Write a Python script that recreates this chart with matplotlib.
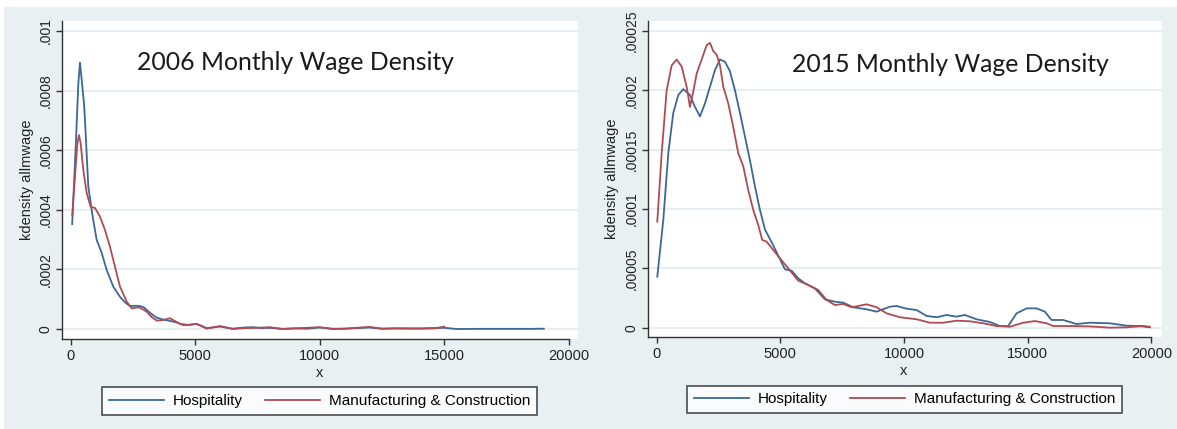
import numpy as np
import matplotlib
matplotlib.use('Agg')
import matplotlib.pyplot as plt
from matplotlib.patches import Rectangle

# 2006 kernel density curves
hosp2006X = [60, 213, 307, 373, 450, 533, 574, 707, 883, 1044, 1245, 1446, 1711, 1980, 2200, 2382,
             2600, 2783, 2950, 3052, 3250, 3454, 3700, 3988, 4250, 4522, 4800, 5060, 5462, 6000,
             6500, 7000, 7300, 7700, 8000, 8500, 9000, 9500, 10000, 10500, 11000, 11500, 12000,
             12500, 13000, 14000, 14500, 15000, 15500, 16500, 17500, 18500, 19000]
hosp2006Y = [0.000352, 0.000634, 0.000824, 0.000894, 0.00083, 0.000757, 0.000701, 0.000478, 0.000377,
             0.000299, 0.000255, 0.000198, 0.000142, 0.000108, 0.000088, 0.000077,
             0.000078, 0.000077, 0.000072, 0.000064, 0.000050, 0.000038, 0.000032, 0.000027, 0.000022,
             0.000013, 0.000014, 0.000017, 0.000003, 0.000008,
             0.000001, 0.000005, 0.000006, 0.000003, 0.000004, 0.0000005, 0.000002, 0.000001, 0.000005,
             0.000001, 0.000001, 0.000003, 0.000005,
             0.000001, 0.000002, 0.000002, 0.000003, 0.000004, 0.0, 0.0000005, 0.0000005, 0.0000005, 0.000001]

manu2006X = [64, 200, 270, 333, 400, 506, 643, 803, 976, 1177, 1378, 1578, 1779, 1980, 2249, 2450,
             2715, 2900, 3052, 3250, 3454, 3700, 3988, 4390, 4700, 5060, 5462, 6000, 6500, 7000,
             7500, 8000, 8500, 9000, 10000, 10500, 11000, 12000, 12500, 13000, 14000, 14600, 15000]
manu2006Y = [0.000383, 0.000545, 0.000623, 0.000651, 0.000623, 0.000534, 0.000456, 0.000410, 0.000406,
             0.000377, 0.000332, 0.000276, 0.000209, 0.000142, 0.000092, 0.000069,
             0.000073, 0.000066, 0.000058, 0.000040, 0.000028, 0.000030, 0.000036, 0.000017, 0.000014,
             0.000017, 0.000001, 0.00001, 0.0, 0.000003,
             0.000004, 0.000006, 0.0, 0.000002, 0.000006, 0.0, 0.000001, 0.000007, 0.000001, 0.000002,
             0.000001, 0.000002, 0.000008]

# 2015 kernel density curves
hosp2015X = [28, 271, 473, 675, 877, 1079, 1349, 1552, 1754, 1956, 2158, 2360, 2562, 2764, 2966, 3168,
             3370, 3572, 3774, 3976, 4178, 4380, 4650, 4917, 5188, 5459, 5725, 5996, 6400, 6804,
             7208, 7545, 7948, 8489, 8893, 9430, 9701, 10105, 10509, 10913, 11317, 11721, 12125,
             12460, 12933, 13471, 13875, 14211, 14551, 14955, 15358, 15693, 15964, 16432, 16974,
             17511, 18319, 18994, 19531, 19935]
hosp2015Y = [0.000043, 0.0000907, 0.000147, 0.000181, 0.000196, 0.000201, 0.000196, 0.000186, 0.000178,
             0.000189, 0.000203, 0.000217, 0.000226, 0.000224, 0.000216, 0.000200,
             0.000181, 0.000161, 0.000141, 0.000119, 0.0000992, 0.0000828, 0.000072, 0.0000607,
             0.0000492, 0.000048, 0.0000416, 0.0000374, 0.000033, 0.0000239,
             0.0000219, 0.0000211, 0.0000172, 0.0000155, 0.0000135, 0.0000177, 0.0000183, 0.000016,
             0.0000149, 0.0000099, 0.0000088, 0.0000107, 0.0000093,
             0.0000107, 0.0000071, 0.0000048, 0.0000014, 0.0000014, 0.0000121, 0.0000163, 0.0000163,
             0.0000135, 0.0000065, 0.0000065, 0.0000031,
             0.0000042, 0.0000037, 0.0000017, 0.0000014, 0.0000003]

manu2015X = [28, 206, 408, 610, 812, 1014, 1216, 1349, 1483, 1620, 1822, 2024, 2158, 2291, 2428, 2562,
             2695, 2897, 3099, 3301, 3503, 3705, 3907, 4109, 4271, 4448, 4715, 4986, 5321, 5725,
             6129, 6533, 6873, 7208, 7545, 7882, 8489, 8893, 9296, 9835, 10509, 11047, 11586, 12125,
             12663, 13202, 13741, 14279, 14820, 15291, 15762, 16031, 16840, 17511, 18319, 18994,
             19666, 19935]
manu2015Y = [0.0000893, 0.000147, 0.0002, 0.000221, 0.000226, 0.00022, 0.000203, 0.000186, 0.000199,
             0.000214, 0.000226, 0.000238, 0.00024, 0.000233, 0.00023, 0.000221,
             0.000203, 0.000189, 0.000169, 0.000147, 0.000136, 0.000116, 0.0000992, 0.0000865,
             0.0000739, 0.0000725, 0.0000655, 0.0000585, 0.00005, 0.0000396,
             0.000036, 0.0000318, 0.0000233, 0.0000191, 0.00002, 0.0000172, 0.0000197, 0.0000172,
             0.0000121, 0.0000088, 0.0000071, 0.0000042, 0.0000042, 0.0000059,
             0.0000054, 0.0000037, 0.0000014, 0.0000008, 0.0000042, 0.0000056, 0.0000037, 0.0000014,
             0.0000014, 0.0000011, 0.0, 0.0000003,
             0.0000014, 0.0000008]

xTicks = [0, 5000, 10000, 15000, 20000]
yTicks2006 = [0, 0.0002, 0.0004, 0.0006, 0.0008, 0.001]
yLabels2006 = ['0', '.0002', '.0004', '.0006', '.0008', '.001']
yTicks2015 = [0, 0.00005, 0.0001, 0.00015, 0.0002, 0.00025]
yLabels2015 = ['0', '.00005', '.0001', '.00015', '.0002', '.00025']
seriesNames = ['Hospitality', 'Manufacturing & Construction']
titles = ['2006 Monthly Wage Density', '2015 Monthly Wage Density']

BLUE = '#3b6896'
RED = '#ae4b53'
BG = '#e8f0f2'
GRID = '#e6eef1'
AXCOL = '#333333'
W, H = 1177, 429

plt.rcParams['font.family'] = ['Liberation Sans', 'DejaVu Sans']
fig = plt.figure(figsize=(W / 100, H / 100), dpi=100)
fig.patch.set_facecolor('white')
fig.add_artist(Rectangle((3.5 / W, 0), 1 - 3.5 / W, 1 - 6.7 / H, transform=fig.transFigure,
                         facecolor=BG, edgecolor='none', zorder=0))

# pixel boxes: (left, top, right, bottom), then x/y limits and text spots
panels = [
    dict(box=(62, 21, 578, 339), xlim=(-349, 20373), ylim=(-0.0000336, 0.0010336),
         yticks=yTicks2006, ylabels=yLabels2006, hosp=(hosp2006X, hosp2006Y), manu=(manu2006X, manu2006Y),
         title=titles[0], titlePos=(137, 63), legendPos=(319.5, 401), ylabX=34.5),
    dict(box=(648, 21, 1162, 337), xlim=(-347, 20428), ylim=(-0.00000784, 0.0002584),
         yticks=yTicks2015, ylabels=yLabels2015, hosp=(hosp2015X, hosp2015Y), manu=(manu2015X, manu2015Y),
         title=titles[1], titlePos=(792, 65), legendPos=(904.5, 399.5), ylabX=619),
]

for p in panels:
    l, t, r, b = p['box']
    ax = fig.add_axes([l / W, 1 - b / H, (r - l) / W, (b - t) / H])
    ax.set_facecolor('white')
    ax.plot(*p['hosp'], color=BLUE, lw=1.3, label=seriesNames[0], solid_joinstyle='round')
    ax.plot(*p['manu'], color=RED, lw=1.3, label=seriesNames[1], solid_joinstyle='round')
    ax.set_xlim(*p['xlim'])
    ax.set_ylim(*p['ylim'])
    ax.set_xticks(xTicks)
    ax.set_xticklabels([str(v) for v in xTicks], fontsize=10.5)
    ax.set_yticks(p['yticks'])
    ax.set_yticklabels(p['ylabels'], rotation=90, va='center', fontsize=10)
    ax.yaxis.grid(True, color=GRID, lw=1.5)
    ax.set_axisbelow(True)
    for s in ['top', 'right']:
        ax.spines[s].set_visible(False)
    for s in ['left', 'bottom']:
        ax.spines[s].set_color(AXCOL)
        ax.spines[s].set_linewidth(1.0)
    ax.spines['bottom'].set_bounds(p['xlim'][0], 20000)
    ax.tick_params(direction='out', length=4.5, width=1.0, color=AXCOL, labelcolor='#222222', pad=2.5)
    ax.set_ylabel('kdensity allmwage', fontsize=10.5, color='#222222')
    ax.yaxis.set_label_coords((p['ylabX'] - l) / (r - l), 0.5)
    ax.set_xlabel('x', fontsize=10.5, color='#222222')
    ax.xaxis.set_label_coords((10000 - p['xlim'][0]) / (p['xlim'][1] - p['xlim'][0]), -0.085)
    fig.text(p['titlePos'][0] / W, 1 - p['titlePos'][1] / H, p['title'], family='Lato',
             fontsize=17.8, color='#1a1a1a', ha='left', va='center')
    leg = ax.legend(loc='center', bbox_to_anchor=(p['legendPos'][0] / W, 1 - p['legendPos'][1] / H),
                    bbox_transform=fig.transFigure, ncol=2, fontsize=11, frameon=True, fancybox=False,
                    handlelength=3.6, handletextpad=0.6, columnspacing=1.45, borderpad=0.45,
                    borderaxespad=0)
    leg.get_frame().set_edgecolor('#222222')
    leg.get_frame().set_linewidth(1.2)
    for ln in leg.get_lines():
        ln.set_linewidth(1.3)

fig.savefig('out.png', dpi=100, facecolor=fig.get_facecolor())
